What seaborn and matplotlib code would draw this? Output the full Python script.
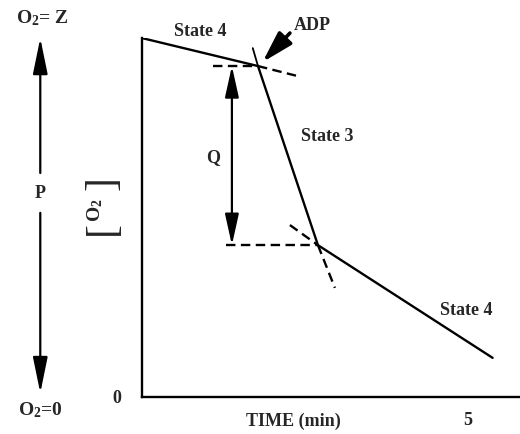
import pandas as pd
import matplotlib.pyplot as plt
import seaborn as sns

# Oxygen trace (time in min, O2 as fraction of the starting level)
time = [0.0, 1.78, 2.70, 5.38]
o2 = [1.0, 0.922, 0.423, 0.109]

# Dashed extensions of the three slopes
ext_state4a_t = [1.78, 2.39]
ext_state4a_o2 = [0.922, 0.894]
ext_state3_top_t = [1.70, 1.78]
ext_state3_top_o2 = [0.972, 0.922]
ext_state3_t = [2.70, 2.96]
ext_state3_o2 = [0.423, 0.304]
ext_state4b_t = [2.27, 2.70]
ext_state4b_o2 = [0.479, 0.423]

# Horizontal reference levels for Q
q_upper_t = [1.09, 1.80]
q_lower_t = [1.29, 2.70]
q_x = 1.38
p_x = -1.56

sns.set_theme(style="white")
plt.rcParams['font.family'] = ['Liberation Serif', 'DejaVu Serif']
plt.rcParams['mathtext.fontset'] = 'custom'
plt.rcParams['mathtext.rm'] = 'Liberation Serif'
plt.rcParams['mathtext.bf'] = 'Liberation Serif:bold'

fig = plt.figure(figsize=(5.2, 4.34), dpi=100)
ax = fig.add_axes([0.273, 0.0853, 0.727, 0.827])

df = pd.DataFrame({'time': time, 'o2': o2})
sns.lineplot(data=df, x='time', y='o2', sort=False, color='black', lw=1.7, ax=ax)

dash = dict(color='black', lw=1.7, linestyle=(0, (4, 2.3)))
ax.plot(ext_state4a_t, ext_state4a_o2, **dash)
ax.plot(ext_state3_top_t, ext_state3_top_o2, color='black', lw=1.3)
ax.plot(ext_state3_t, ext_state3_o2, **dash)
ax.plot(ext_state4b_t, ext_state4b_o2, **dash)
ax.plot(q_upper_t, [o2[1], o2[1]], **dash)
ax.plot(q_lower_t, [o2[2], o2[2]], **dash)

# Q double arrow
ax.annotate('', xy=(q_x, o2[2]), xytext=(q_x, o2[1]),
            arrowprops=dict(arrowstyle='<|-|>,head_length=1.9,head_width=0.42',
                            mutation_scale=10, color='black', lw=1.6,
                            shrinkA=0, shrinkB=0), annotation_clip=False)

# P arrows (split around the label)
ax.annotate('', xy=(p_x, 1.0), xytext=(p_x, 0.624),
            arrowprops=dict(arrowstyle='-|>,head_length=2.2,head_width=0.45',
                            mutation_scale=10, color='black', lw=1.6,
                            shrinkA=0, shrinkB=0), annotation_clip=False)
ax.annotate('', xy=(p_x, 0.011), xytext=(p_x, 0.513),
            arrowprops=dict(arrowstyle='-|>,head_length=2.2,head_width=0.45',
                            mutation_scale=10, color='black', lw=1.6,
                            shrinkA=0, shrinkB=0), annotation_clip=False)

# ADP arrow
ax.annotate('', xy=(1.85, 0.933), xytext=(2.27, 1.014),
            arrowprops=dict(arrowstyle='-|>,head_length=1.9,head_width=0.55',
                            mutation_scale=10, color='black', lw=2.6,
                            shrinkA=0, shrinkB=0), annotation_clip=False)

fs = 13
txt = dict(fontsize=fs, ha='center', va='center', fontweight='bold', clip_on=False)
ax.text(2.62, 1.036, 'ADP', **txt)
ax.text(0.89, 1.019, 'State 4', **txt)
ax.text(2.84, 0.727, 'State 3', **txt)
ax.text(4.98, 0.242, 'State 4', **txt)
ax.text(1.09, 0.666, 'Q', **txt)
ax.text(p_x, 0.568, 'P', **txt)
ax.text(-1.53, 1.056, r'$\mathbf{O_2}$= Z', fontsize=14, ha='center', va='center',
        fontweight='bold', clip_on=False)
ax.text(-1.56, -0.036, r'$\mathbf{O_2}$=0', fontsize=14, ha='center', va='center',
        fontweight='bold', clip_on=False)

ax.set_xlim(0, 5.8)
ax.set_ylim(0, 1.0)
ax.set_xticks([5])
ax.set_xticklabels(['5'], fontsize=fs, fontweight='bold')
ax.set_yticks([0])
ax.set_yticklabels(['0'], fontsize=fs, fontweight='bold')
ax.tick_params(axis='x', direction='in', length=7, width=1.4, pad=11, color='black')
ax.tick_params(axis='y', length=0, pad=15)

ax.set_xlabel('TIME (min)', fontsize=fs, fontweight='bold', va='center')
ax.xaxis.set_label_coords(0.40, -0.067)

# y label: O2 with tall brackets around it
ax.set_ylabel(r'$\mathbf{O_2}$', fontsize=14, va='center')
ax.yaxis.set_label_coords(-0.125, 0.52)
brk = dict(fontsize=30, rotation=90, ha='center', va='center',
           transform=ax.transAxes, clip_on=False)
ax.text(-0.103, 0.472, '[', **brk)
ax.text(-0.103, 0.597, ']', **brk)

sns.despine(ax=ax)
for s in ('left', 'bottom'):
    ax.spines[s].set_linewidth(1.7)
    ax.spines[s].set_color('black')

fig.savefig('out.png', dpi=100)
